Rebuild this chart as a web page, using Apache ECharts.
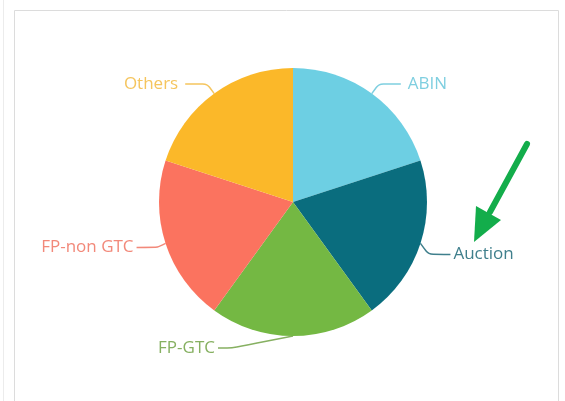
<!DOCTYPE html>
<html>
<head>
<meta charset="utf-8">
<script src="https://cdn.jsdelivr.net/npm/echarts@6/dist/echarts.min.js"></script>
<style>
  html, body { margin: 0; padding: 0; background: #ffffff; }
  #chart { width: 565px; height: 401px; }
</style>
</head>
<body>
<div id="chart"></div>
<script>
// Channel share, clockwise from 12 o'clock
const categories = ['ABIN', 'Auction', 'FP-GTC', 'FP-non GTC', 'Others'];
const shares = [20, 20, 20, 20, 20];
const sliceColors = ['#6dcfe3', '#0a6d7e', '#74b843', '#fb735f', '#fbb829'];
const labelColors = ['#7fcfe0', '#3f7f8c', '#86b061', '#f2897a', '#f5c55e'];

const chart = echarts.init(document.getElementById('chart'), null, { renderer: 'canvas' });

const data = categories.map((name, i) => ({
  name: name,
  value: shares[i],
  itemStyle: { color: sliceColors[i] },
  label: { color: labelColors[i] },
  labelLine: { lineStyle: { color: labelColors[i] } }
}));

// Leader-line tweaks: the bottom label goes to the left, the side
// labels drop slightly below their slices' mid-points.
const leaderBends = {
  'Auction': { bend: [8, 11], run: 22, side: 'left' },
  'FP-GTC': { bend: [-61, 12], run: -14, side: 'right' },
  'FP-non GTC': { bend: [-8, 4], run: -21, side: 'right' }
};

function layoutLabel(params) {
  const name = categories[params.dataIndex];
  const tweak = leaderBends[name];
  if (!tweak || !params.labelLinePoints) return {};
  const start = params.labelLinePoints[0];
  const bend = [start[0] + tweak.bend[0], start[1] + tweak.bend[1]];
  const end = [bend[0] + tweak.run, bend[1]];
  return {
    x: end[0] + (tweak.run > 0 ? 1 : -1),
    y: end[1],
    align: tweak.side,
    verticalAlign: 'middle',
    labelLinePoints: [start, bend, end]
  };
}

chart.setOption({
  animation: false,
  backgroundColor: '#ffffff',
  graphic: [
    // outer panel frame
    { type: 'rect', shape: { x: 14.5, y: 10.5, width: 544, height: 400 },
      style: { fill: 'none', stroke: '#dcdcdc', lineWidth: 1 }, silent: true },
    { type: 'line', shape: { x1: 3.5, y1: 0, x2: 3.5, y2: 401 },
      style: { stroke: '#ececec', lineWidth: 1 }, silent: true },
    // green call-out arrow
    { type: 'line', shape: { x1: 527, y1: 144, x2: 490, y2: 212 },
      style: { stroke: '#13ad4b', lineWidth: 6, lineCap: 'round' }, silent: true },
    { type: 'polygon', shape: { points: [[474, 242], [476, 206], [501, 220]] },
      style: { fill: '#13ad4b' }, silent: true }
  ],
  series: [{
    type: 'pie',
    center: [293, 202],
    radius: 134,
    startAngle: 90,
    clockwise: true,
    avoidLabelOverlap: false,
    data: data,
    itemStyle: { borderWidth: 0 },
    label: {
      show: true,
      formatter: '{b}',
      fontFamily: '"Open Sans", "Noto Sans", sans-serif',
      fontSize: 17,
      padding: [0, 2]
    },
    labelLine: {
      show: true,
      length: 12,
      length2: 22,
      smooth: 0.2,
      lineStyle: { width: 1.5 }
    },
    labelLayout: layoutLabel,
    emphasis: { disabled: true }
  }]
});
</script>
</body>
</html>
